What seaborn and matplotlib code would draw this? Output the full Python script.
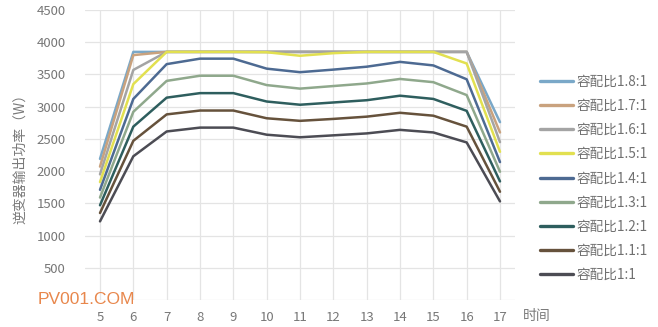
import matplotlib
matplotlib.use("Agg")
import matplotlib.pyplot as plt
import seaborn as sns
import pandas as pd

hours = [5, 6, 7, 8, 9, 10, 11, 12, 13, 14, 15, 16, 17]
series_labels = ["容配比1.8:1", "容配比1.7:1", "容配比1.6:1", "容配比1.5:1", "容配比1.4:1",
                 "容配比1.3:1", "容配比1.2:1", "容配比1.1:1", "容配比1:1"]
r18 = [2190, 3850, 3850, 3850, 3850, 3850, 3850, 3850, 3850, 3850, 3850, 3850, 2760]
r17 = [2070, 3800, 3850, 3850, 3850, 3850, 3850, 3850, 3850, 3850, 3850, 3850, 2600]
r16 = [1950, 3570, 3850, 3850, 3850, 3850, 3850, 3850, 3850, 3850, 3850, 3850, 2450]
r15 = [1830, 3350, 3850, 3850, 3850, 3845, 3790, 3830, 3850, 3850, 3850, 3670, 2300]
r14 = [1710, 3120, 3660, 3745, 3745, 3590, 3535, 3575, 3620, 3695, 3640, 3425, 2140]
r13 = [1590, 2920, 3400, 3480, 3480, 3335, 3280, 3320, 3360, 3430, 3380, 3180, 1990]
r12 = [1470, 2690, 3140, 3210, 3210, 3080, 3030, 3065, 3100, 3170, 3120, 2935, 1840]
r11 = [1350, 2470, 2880, 2940, 2940, 2820, 2780, 2810, 2845, 2905, 2860, 2690, 1680]
r10 = [1220, 2230, 2615, 2675, 2675, 2565, 2525, 2555, 2585, 2640, 2600, 2445, 1530]
series_values = [r18, r17, r16, r15, r14, r13, r12, r11, r10]
colors = ["#7aa8c8", "#c9a27e", "#a4a4a4", "#e2e050", "#4d6a92",
          "#8fa88c", "#2e5e5e", "#66523c", "#4c4c54"]
yticks = [500, 1000, 1500, 2000, 2500, 3000, 3500, 4000, 4500]

rows = []
for lab, vals in zip(series_labels, series_values):
    for h, v in zip(hours, vals):
        rows.append({"hour": h, "power": v, "series": lab})
df = pd.DataFrame(rows)

sns.set_theme(style="white")
plt.rcParams["font.family"] = ["Noto Sans CJK SC", "DejaVu Sans"]

fig = plt.figure(figsize=(6.58, 3.27), dpi=100)
ax = fig.add_axes([85/658, 1-300/327, (515-85)/658, 290/327])

sns.lineplot(data=df, x="hour", y="power", hue="series", hue_order=series_labels,
             palette=colors, linewidth=1.8, ax=ax, sort=False)

ax.set_xlim(4.55, 17.45)
ax.set_ylim(0, 4500)
ax.set_xticks(hours)
ax.set_xticklabels([str(h) for h in hours])
ax.set_yticks(yticks)
ax.set_yticklabels([str(t) for t in yticks])
ax.grid(True, color="#e4e4e4", linewidth=0.9)
ax.set_axisbelow(True)
for s in ax.spines.values():
    s.set_visible(False)
ax.axhline(0, color="#e4e4e4", linewidth=0.9, zorder=0)
ax.tick_params(axis="both", length=0, labelsize=9.5, labelcolor="#777777")
ax.tick_params(axis="y", pad=14)
ax.tick_params(axis="x", pad=8)
ax.set_xlabel("")
ax.set_ylabel("逆变器输出功率（W）", fontsize=10, color="#7a7a7a", labelpad=7)

ax.text(523/658, 1-316/327, "时间", transform=fig.transFigure, fontsize=10,
        color="#7a7a7a", va="center", ha="left")
fig.text(38/658, 1-300/327, "PV001.COM", fontsize=12.5, color="#e8874c",
         family="Liberation Sans", va="center", ha="left")

handles, labels = ax.get_legend_handles_labels()
leg = ax.legend(handles, labels, loc="upper left", bbox_to_anchor=(540/658, 1-75/327),
                bbox_transform=fig.transFigure, frameon=False, borderpad=0,
                borderaxespad=0, handlelength=2.4, handletextpad=0.3,
                labelspacing=0.74, fontsize=9.8)
for t in leg.get_texts():
    t.set_color("#707070")
for l in leg.get_lines():
    l.set_linewidth(2.4)

fig.savefig("out.png", dpi=100)
